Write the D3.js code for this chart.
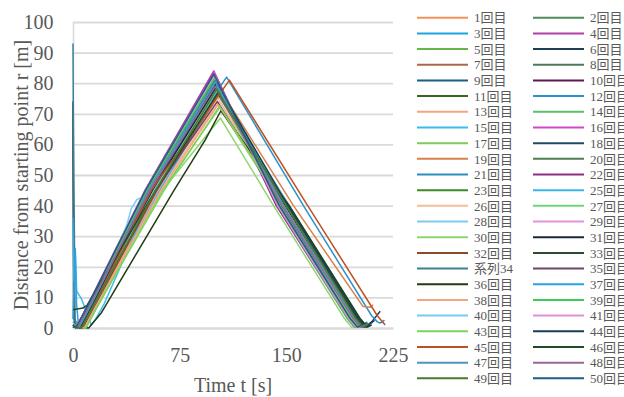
<!DOCTYPE html>
<html>
<head>
<meta charset="utf-8">
<script src="https://cdn.jsdelivr.net/npm/d3@7"></script>
<style>
  body { margin: 0; background: #fff; }
</style>
</head>
<body>
<div id="chart"></div>
<script>
// legend labels, in legend order (two columns, read row by row)
var runNames = [
    "1回目", "2回目", "3回目", "4回目", "5回目", "6回目", "7回目", "8回目",
    "9回目", "10回目", "11回目", "12回目", "13回目", "14回目", "15回目", "16回目",
    "17回目", "18回目", "19回目", "20回目", "21回目", "22回目", "23回目", "25回目",
    "26回目", "27回目", "28回目", "29回目", "30回目", "31回目", "32回目", "33回目",
    "系列34", "35回目", "36回目", "37回目", "38回目", "39回目", "40回目", "41回目",
    "43回目", "44回目", "45回目", "46回目", "47回目", "48回目", "49回目", "50回目"
];

var runColors = [
    "#f4925a", "#4f8b5a", "#1ba5e0", "#b13fa8", "#65b548", "#1e3e55", "#a86a4a", "#4e7a5a",
    "#1d5e7e", "#5a1a50", "#3b6322", "#2a93cf", "#f4a581", "#5dbe6e", "#3bbbee", "#d448c6",
    "#7dcb5e", "#214a66", "#d9804a", "#4e7e50", "#2b8dc0", "#8d2e82", "#3d8b28", "#3bb4ea",
    "#f8bc98", "#6bd67a", "#7fccf0", "#e494da", "#8dd66d", "#17293a", "#8a4a2e", "#2e4a30",
    "#3f7f96", "#6e4468", "#1f3d12", "#2aa4e0", "#f5a57f", "#3dcc55", "#73cbef", "#e08fd6",
    "#7ad65b", "#173c5a", "#c05020", "#1e4a25", "#4d97b8", "#9a6698", "#4a7a2a", "#1e5c85"
];

// [time t (s), distance r (m)], one list per run
var runs = [
    [[0,1],[4,0],[12,7],[53,45],[100,81],[147,40],[196,3],[201,0.3],[204,1.2]],
    [[0,0.5],[3,0],[11,7],[52,45],[99,82.5],[145,40],[194,3],[199,0.3],[202,1]],
    [[0,2],[5,0],[13,7],[55,45],[101,79],[150,40],[199,3],[204,0.5],[207,2]],
    [[0,1],[2,0],[10,7],[50.6,45],[99,84],[144,40],[195,3],[200,0.2],[203,1.5]],
    [[0,0.5],[6,0],[14,7],[57,45],[102,77],[150,40],[198,3],[203,0.3],[206,1]],
    [[0,1],[3,0],[11,7],[52,45],[100,81.5],[148,40],[200,3],[205,0.3],[210,2],[216,5.5]],
    [[0,74],[0.3,3],[7,0],[15,7],[58,45],[103,76],[152,40],[200,3],[205,0.5],[208,1.5]],
    [[0,0.5],[4,0],[12,7],[54,45],[100,80],[146,40],[195,3],[200,0.3],[203,1]],
    [[0,74],[0,54],[0.5,20],[1,2],[4,0],[12,7],[53,45],[101,80],[148,40],[197,3],[202,0.3],[206,1.8]],
    [[0,1],[2,0],[10,7],[51,45],[99,83.5],[144,40],[194,3],[199,0.3],[202,1]],
    [[0,0.5],[5,0],[13,7],[55,45],[101,79.5],[148,40],[197,3],[202,0.3],[205,1]],
    [[0,1],[5,0],[13,7],[54,45],[108,82],[162,40],[210,4],[214,2],[216,1.6],[219,2.6]],
    [[0,1],[8,0],[16,7],[60,45],[103,74],[150,40],[201,3],[206,0.3],[209,1]],
    [[0,0.5],[3,0],[11,7],[52,45],[100,82],[146,40],[195,3],[200,0.3],[203,1]],
    [[0,36],[0.6,15],[1.6,26],[2.6,12],[4,11],[6,9.5],[8,7],[10,4],[13,1],[16,3],[22,8],[57,45],[102,78],[149,40],[198,3],[203,0.3],[206,1]],
    [[0,1],[2,0],[10,7],[51,45],[99,83.8],[143,40],[193,3],[198,0.2],[201,1]],
    [[0,1],[9,0],[17,7],[63,45],[103,72],[147,40],[195,3],[200,0.3],[203,1]],
    [[0,1],[4,0],[12,7],[54,45],[100,80.5],[149,40],[198,3],[203,0.3],[206,1.5]],
    [[0,1],[6,0],[14,7],[56,45],[102,79],[155,40],[204,7],[209,6.8],[211,7.6]],
    [[0,0.5],[3,0],[11,7],[52,45],[100,81],[147,40],[196,3],[201,0.3],[204,1]],
    [[0,1],[5,0],[13,7],[55,45],[101,80],[150,40],[200,3],[205,0.3],[208,1.5]],
    [[0,1],[2,0],[10,7],[51,45],[98.5,83],[143,40],[194,3],[199,0.3],[202,1]],
    [[0,0.5],[4,0],[12,7],[54,45],[100,79],[147,40],[197,3],[202,0.3],[205,1]],
    [[0,1],[9,0],[17,7],[61,45],[102,77],[152,40],[201,3],[206,0.3],[209,1.5]],
    [[0,1],[8,0],[16,7],[62,45],[102,75],[149,40],[198,3],[203,0.3],[206,1]],
    [[0,0.5],[6,0],[14,7],[57,45],[101,78],[145,40],[195,3],[200,0.3],[203,1]],
    [[0,1],[7,0],[15,7],[38,34],[41,39],[45,42],[50,43],[60,49],[102,76],[152,40],[202,3],[207,0.3],[210,1]],
    [[0,1],[3,0],[11,7],[52,45],[99,82],[144,40],[194,3],[199,0.3],[202,1]],
    [[0,1],[9,0],[17,7],[63,45],[103.7,68.6],[141,40],[191,3],[196,0.2],[199,1]],
    [[0,0.5],[5,0],[13,7],[56,45],[101,79],[149,40],[198,3],[203,0.3],[206,1]],
    [[0,1],[7,0],[15,7],[59,45],[102,76.5],[150,40],[199,3],[204,0.3],[207,1.5]],
    [[0,0.5],[4,0],[12,7],[53,45],[100,80],[147,40],[196,3],[201,0.3],[204,1]],
    [[0,93],[0.2,74],[0.8,40],[1.5,2],[3,0],[11,7],[52,45],[100,81],[148,40],[197,3],[202,0.3],[205,1]],
    [[0,1],[5,0],[13,7],[58,45],[101.5,74],[148,40],[199,3],[204,0.3],[207,1]],
    [[0,0.5],[11,0],[20,5],[71,45],[93,61.5],[104,71],[152,40],[202,3],[207,0.3],[210,1]],
    [[0,3],[1.5,26],[2.5,8],[4,0],[12,7],[54,45],[100,80],[147,40],[196,3],[201,0.3],[204,1]],
    [[0,1],[8,0],[16,7],[62,45],[102,73],[148,40],[197,3],[202,0.3],[205,1]],
    [[0,0.5],[3,0],[11,7],[52,45],[100,82],[144,40],[193,3],[198,0.3],[201,1]],
    [[0,1],[6,0],[14,7],[57,45],[101,78],[150,40],[199,3],[204,0.3],[207,1]],
    [[0,1],[2,0],[10,7],[51,45],[99,83],[144,40],[194,3],[199,0.3],[202,1]],
    [[0,1],[9,0],[17,7],[64,45],[103,72.5],[148,40],[196,3],[201,0.3],[204,1]],
    [[0,0.5],[5,0],[13,7],[55,45],[101,80],[151,40],[201,3],[206,0.3],[212,2.5]],
    [[0,1],[6,0],[14,7],[55,45],[110,81],[165,40],[214,4],[219.5,1]],
    [[0,6],[7,6.5],[10,7.5],[58,45],[102,77],[150,40],[200,3],[205,0.3],[208,1]],
    [[0,1],[4,0],[12,7],[53,45],[100,80.5],[148,40],[198,3],[203,0.3],[206,1]],
    [[0,1],[3,0],[11,7],[54,45],[100,79],[147,40],[197,3],[202,0.3],[205,1]],
    [[0,0.5],[6,0],[14,7],[58,45],[101,78],[150,40],[199,3],[204,0.3],[207,1]],
    [[0,1],[2,0],[10,7],[51,45],[99,83],[145,40],[195,3],[200,0.3],[203,1]]
];

var xTicks = [0, 75, 150, 225];
var yTicks = [0, 10, 20, 30, 40, 50, 60, 70, 80, 90, 100];

var width = 624,
    height = 397,
    plot = { left: 73, top: 22, right: 393, bottom: 328 },
    textColor = "#595959",
    gridColor = "#d9d9d9",
    font = "'Liberation Serif', 'Times New Roman', 'Noto Sans CJK JP', serif";

var svg = d3.select("#chart").append("svg")
    .attr("width", width)
    .attr("height", height);

var x = d3.scaleLinear().domain([0, 225]).range([plot.left, plot.right]);
var y = d3.scaleLinear().domain([0, 100]).range([plot.bottom, plot.top]);

// y axis + horizontal gridlines
var yAxis = svg.append("g")
    .attr("transform", "translate(" + plot.left + ",0)")
    .call(d3.axisLeft(y)
        .tickValues(yTicks)
        .tickSize(-(plot.right - plot.left))
        .tickSizeOuter(0)
        .tickPadding(19.5));
yAxis.select(".domain").attr("stroke", gridColor).attr("stroke-width", 1.5);
yAxis.selectAll(".tick line").attr("stroke", gridColor).attr("stroke-width", 1.8);
yAxis.selectAll(".tick text")
    .style("font-family", font)
    .style("font-size", "20px")
    .attr("fill", textColor);

// x axis
var xAxis = svg.append("g")
    .attr("transform", "translate(0," + plot.bottom + ")")
    .call(d3.axisBottom(x)
        .tickValues(xTicks)
        .tickSize(0)
        .tickSizeOuter(0)
        .tickPadding(20));
xAxis.select(".domain").attr("stroke", gridColor).attr("stroke-width", 1.8);
xAxis.selectAll(".tick text")
    .style("font-family", font)
    .style("font-size", "20px")
    .attr("fill", textColor);

// runs
var line = d3.line()
    .x(function (d) { return x(d[0]); })
    .y(function (d) { return y(d[1]); });

svg.append("g").attr("class", "runs")
    .selectAll("path")
    .data(runs)
    .enter().append("path")
    .attr("d", line)
    .attr("fill", "none")
    .attr("stroke", function (d, i) { return runColors[i]; })
    .attr("stroke-width", 1.5)
    .attr("stroke-linejoin", "round");

// axis titles
svg.append("text")
    .attr("x", (plot.left + plot.right) / 2)
    .attr("y", 392)
    .attr("text-anchor", "middle")
    .style("font-family", font)
    .style("font-size", "20px")
    .attr("fill", textColor)
    .text("Time t [s]");

svg.append("text")
    .attr("transform", "translate(27.5," + ((plot.top + plot.bottom) / 2) + ") rotate(-90)")
    .attr("text-anchor", "middle")
    .style("font-family", font)
    .style("font-size", "20px")
    .attr("fill", textColor)
    .text("Distance from starting point r [m]");

// legend, two columns
var legend = svg.append("g").attr("class", "legend")
    .selectAll("g")
    .data(runNames)
    .enter().append("g")
    .attr("transform", function (d, i) {
        return "translate(" + (417 + (i % 2) * 116) + "," + (17.7 + Math.floor(i / 2) * 15.68) + ")";
    });

legend.append("line")
    .attr("x1", 0)
    .attr("x2", 51)
    .attr("stroke", function (d, i) { return runColors[i]; })
    .attr("stroke-width", 2);

legend.append("text")
    .attr("x", 57)
    .attr("dy", "0.36em")
    .style("font-family", font)
    .style("font-size", "13px")
    .attr("fill", textColor)
    .text(function (d) { return d; });
</script>
</body>
</html>
